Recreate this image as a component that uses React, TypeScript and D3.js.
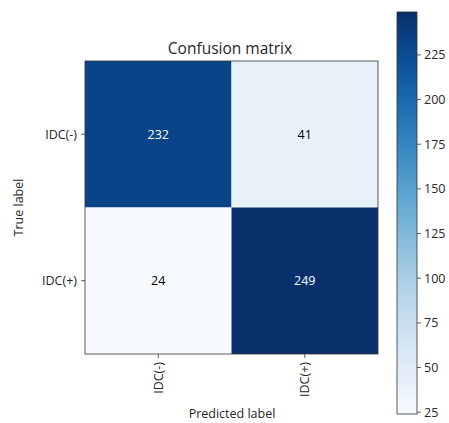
import React from "react";
import * as d3 from "d3";

const classes = ["IDC(-)", "IDC(+)"];
// rows = true label, cols = predicted label
const matrix = [
  [232, 41],
  [24, 249],
];
const cbTicks = [25, 50, 75, 100, 125, 150, 175, 200, 225];

const W = 449;
const H = 423;
const font = "'Open Sans', sans-serif";
const fs = 12.5;

const App = () => {
  const flat = matrix.flat();
  const vmin = d3.min(flat) as number;
  const vmax = d3.max(flat) as number;
  const color = d3.scaleSequential(d3.interpolateBlues).domain([vmin, vmax]);
  const thresh = vmax / 2;

  const x = d3.scaleBand().domain(classes).range([85, 378]);
  const y = d3.scaleBand().domain(classes).range([61, 354]);

  const cbX = 397;
  const cbW = 20;
  const cbY = d3.scaleLinear().domain([vmin, vmax]).range([414, 12]);
  const stops = d3.range(0, 1.0001, 0.05);

  return (
    <svg
      width={W}
      height={H}
      style={{ position: "absolute", left: 0, top: 0, background: "#fff" }}
      fontFamily={font}
    >
      <defs>
        <linearGradient id="cb" x1="0" y1="1" x2="0" y2="0">
          {stops.map((t) => (
            <stop key={t} offset={t} stopColor={d3.interpolateBlues(t)} />
          ))}
        </linearGradient>
      </defs>

      <text x={230} y={54} textAnchor="middle" fontSize={15.5} fill="#262626">
        Confusion matrix
      </text>

      {matrix.map((row, i) =>
        row.map((v, j) => (
          <g key={`${i}-${j}`}>
            <rect
              x={x(classes[j])}
              y={y(classes[i])}
              width={x.bandwidth()}
              height={y.bandwidth()}
              fill={color(v)}
            />
            <text
              x={(x(classes[j]) as number) + x.bandwidth() / 2}
              y={(y(classes[i]) as number) + y.bandwidth() / 2}
              textAnchor="middle"
              dominantBaseline="central"
              fontSize={fs}
              fill={v > thresh ? "#fff" : "#000"}
            >
              {v}
            </text>
          </g>
        ))
      )}
      <rect x={85} y={61} width={293} height={293} fill="none" stroke="#333" strokeWidth={0.8} />

      {/* y ticks */}
      {classes.map((c) => {
        const cy = (y(c) as number) + y.bandwidth() / 2;
        return (
          <g key={c}>
            <line x1={81} x2={85} y1={cy} y2={cy} stroke="#333" strokeWidth={0.8} />
            <text x={77} y={cy} textAnchor="end" dominantBaseline="central" fontSize={fs} fill="#262626">
              {c}
            </text>
          </g>
        );
      })}
      {/* x ticks */}
      {classes.map((c) => {
        const cx = (x(c) as number) + x.bandwidth() / 2;
        return (
          <g key={c}>
            <line x1={cx} x2={cx} y1={354} y2={358} stroke="#333" strokeWidth={0.8} />
            <text
              transform={`translate(${cx},${362}) rotate(-90)`}
              textAnchor="end"
              dominantBaseline="central"
              fontSize={fs}
              fill="#262626"
            >
              {c}
            </text>
          </g>
        );
      })}

      <text x={232} y={418} textAnchor="middle" fontSize={fs} fill="#262626">
        Predicted label
      </text>
      <text
        transform={`translate(23,207.5) rotate(-90)`}
        textAnchor="middle"
        fontSize={fs}
        fill="#262626"
      >
        True label
      </text>

      {/* colorbar */}
      <rect x={cbX} y={12} width={cbW} height={402} fill="url(#cb)" stroke="#333" strokeWidth={0.8} />
      {cbTicks.map((t) => (
        <g key={t}>
          <line x1={cbX + cbW} x2={cbX + cbW + 4} y1={cbY(t)} y2={cbY(t)} stroke="#333" strokeWidth={0.8} />
          <text x={cbX + cbW + 7} y={cbY(t)} dominantBaseline="central" fontSize={fs} fill="#262626">
            {t}
          </text>
        </g>
      ))}
    </svg>
  );
};

export default App;
